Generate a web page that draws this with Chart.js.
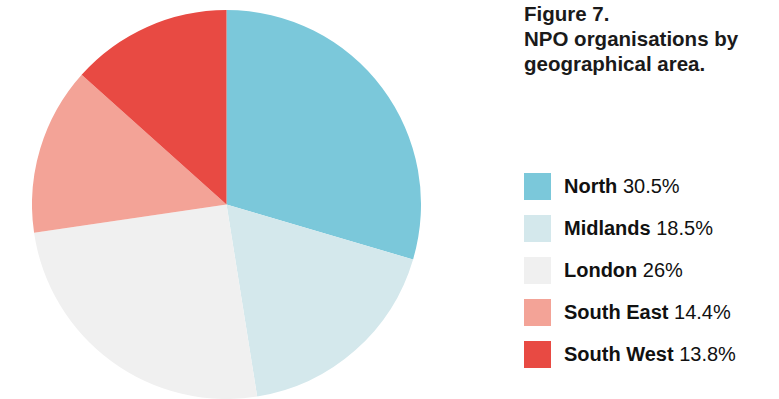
<!DOCTYPE html>
<html>
<head>
<meta charset="utf-8">
<script src="https://cdn.jsdelivr.net/npm/chart.js@4"></script>
<style>
  html, body { margin: 0; padding: 0; background: #fff; }
  body { width: 779px; height: 399px; position: relative; overflow: hidden;
         font-family: "Liberation Sans", Arial, Helvetica, sans-serif; color: #111; }
  #pieBox { position: absolute; left: 32px; top: 10px; width: 389px; height: 389px; }
  #title { position: absolute; left: 524px; top: 1px; font-weight: bold; font-size: 20.5px;
           line-height: 25px; color: #1a1a1a; }
  #legend { position: absolute; left: 524px; top: 173px; }
  .row { position: relative; height: 42px; }
  .sw { position: absolute; left: 0; top: 0; width: 27px; height: 27px; }
  .lbl { position: absolute; left: 40px; top: 0; line-height: 27px; font-size: 20px; white-space: nowrap; color: #111; }
  .lbl b { font-weight: bold; }
</style>
</head>
<body>
<div id="pieBox"><canvas id="pie"></canvas></div>
<div id="title">Figure 7.<br>NPO organisations by<br>geographical area.</div>
<div id="legend"></div>
<script>
// Regions and their share of NPO organisations (%)
const regions = ["North", "Midlands", "London", "South East", "South West"];
const shares = [30.5, 18.5, 26, 14.4, 13.8];
const shareLabels = ["30.5%", "18.5%", "26%", "14.4%", "13.8%"];
const colours = ["#7BC8DA", "#D4E8EC", "#F0F0F0", "#F3A397", "#E84A43"];

// Legend rows built from the same arrays
const legend = document.getElementById("legend");
regions.forEach((name, i) => {
  const row = document.createElement("div");
  row.className = "row";
  const sw = document.createElement("div");
  sw.className = "sw";
  sw.style.background = colours[i];
  const lbl = document.createElement("div");
  lbl.className = "lbl";
  const b = document.createElement("b");
  b.textContent = name;
  lbl.appendChild(b);
  lbl.appendChild(document.createTextNode(" " + shareLabels[i]));
  row.appendChild(sw);
  row.appendChild(lbl);
  legend.appendChild(row);
});

new Chart(document.getElementById("pie"), {
  type: "pie",
  data: {
    labels: regions,
    datasets: [{
      data: shares,
      backgroundColor: colours,
      borderWidth: 0
    }]
  },
  options: {
    responsive: true,
    maintainAspectRatio: false,
    animation: false,
    layout: { padding: 0 },
    plugins: {
      legend: { display: false },
      tooltip: { enabled: false }
    }
  }
});
</script>
</body>
</html>
